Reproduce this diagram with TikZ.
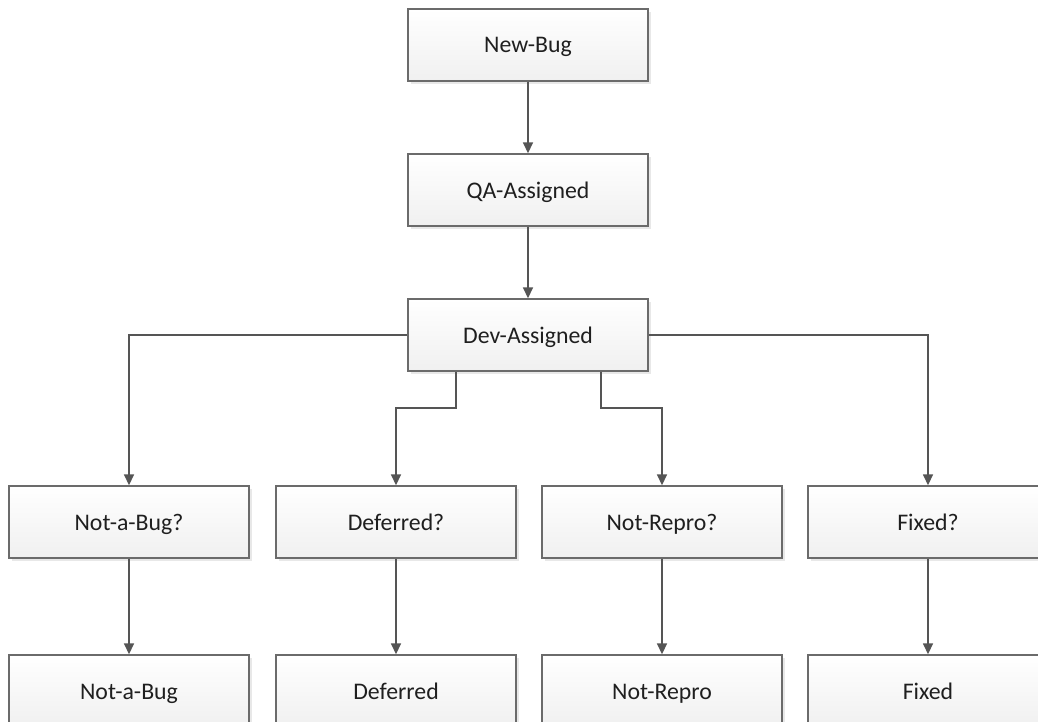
\documentclass[tikz,border=0pt]{standalone}
\usepackage{fontspec}
\setmainfont{Carlito}
\usetikzlibrary{arrows.meta,shadows}
\definecolor{boxline}{HTML}{6B6B6B}
\definecolor{conn}{HTML}{555555}
\definecolor{boxbot}{HTML}{F0F0F0}
\tikzset{
  x=1pt,y=-1pt,
  statebox/.style={rectangle, draw=boxline, line width=1.4pt,
    top color=white, bottom color=boxbot,
    minimum width=240pt, minimum height=72pt, inner sep=0pt,
    text height=16pt, text depth=0pt,
    font=\fontsize{23.8}{28}\selectfont, text=black!88,
    drop shadow={shadow xshift=3pt, shadow yshift=-3pt, fill=black!9, opacity=1}},
  conn/.style={draw=conn, line width=1.6pt,
    -{Triangle[length=11pt,width=10pt]}}
}
\begin{document}
\begin{tikzpicture}
\useasboundingbox (0,0) rectangle (1038,722);
\clip (0,0) rectangle (1038,722);
\node[statebox] (newbug) at (528,45) {New-Bug};
\node[statebox] (qa) at (528,190) {QA-Assigned};
\node[statebox] (dev) at (528,335) {Dev-Assigned};
\node[statebox] (nab) at (129,522) {Not-a-Bug?};
\node[statebox] (defq) at (396,522) {Deferred?};
\node[statebox] (nrq) at (662,522) {Not-Repro?};
\node[statebox] (fixq) at (928,522) {Fixed?};
\node[statebox] (nabf) at (129,691) {Not-a-Bug};
\node[statebox] (deff) at (396,691) {Deferred};
\node[statebox] (nrf) at (662,691) {Not-Repro};
\node[statebox] (fixf) at (928,691) {Fixed};
\coordinate (d1) at (456,408);
\coordinate (d2) at (601,408);
\draw[conn] (newbug) -- (qa);
\draw[conn] (qa) -- (dev);
\draw[conn] (dev.west) -| (nab.north);
\draw[conn] (dev.east) -| (fixq.north);
\draw[conn] (dev.south -| d1) -- (d1) -| (defq.north);
\draw[conn] (dev.south -| d2) -- (d2) -| (nrq.north);
\draw[conn] (nab) -- (nabf);
\draw[conn] (defq) -- (deff);
\draw[conn] (nrq) -- (nrf);
\draw[conn] (fixq) -- (fixf);
\end{tikzpicture}
\end{document}
